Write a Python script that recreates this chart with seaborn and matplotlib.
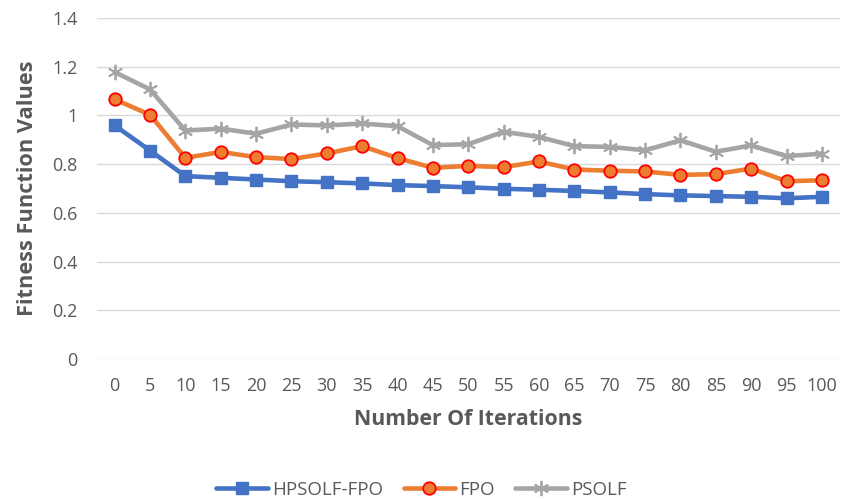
import matplotlib
matplotlib.use("Agg")
import matplotlib.pyplot as plt
import seaborn as sns
import pandas as pd
from matplotlib.lines import Line2D

iterations = [0, 5, 10, 15, 20, 25, 30, 35, 40, 45, 50, 55, 60, 65, 70, 75, 80, 85, 90, 95, 100]
hpsolf_fpo = [0.959, 0.856, 0.751, 0.744, 0.737, 0.730, 0.726, 0.721, 0.714, 0.710, 0.705,
              0.699, 0.695, 0.690, 0.684, 0.677, 0.672, 0.669, 0.666, 0.660, 0.666]
fpo = [1.066, 1.003, 0.826, 0.850, 0.829, 0.821, 0.844, 0.874, 0.825, 0.785, 0.793,
       0.788, 0.811, 0.778, 0.773, 0.770, 0.756, 0.759, 0.782, 0.730, 0.734]
psolf = [1.178, 1.107, 0.938, 0.946, 0.925, 0.963, 0.959, 0.967, 0.956, 0.878, 0.882,
         0.933, 0.912, 0.874, 0.871, 0.857, 0.898, 0.851, 0.877, 0.833, 0.843]
series_names = ["HPSOLF-FPO", "FPO", "PSOLF"]
yticks = [0, 0.2, 0.4, 0.6, 0.8, 1, 1.2, 1.4]
ytick_labels = ["0", "0.2", "0.4", "0.6", "0.8", "1", "1.2", "1.4"]

sns.set_theme(style="white")
plt.rcParams["font.family"] = ["Open Sans", "DejaVu Sans"]

rows = []
for name, vals in zip(series_names, [hpsolf_fpo, fpo, psolf]):
    for i, (it, v) in enumerate(zip(iterations, vals)):
        rows.append({"pos": i, "iter": it, "value": v, "series": name})
df = pd.DataFrame(rows)

colors = {"HPSOLF-FPO": "#4472C4", "FPO": "#ED7D31", "PSOLF": "#A5A5A5"}
markers = {"HPSOLF-FPO": "s", "FPO": "o", "PSOLF": (6, 2, 0)}
msize = {"HPSOLF-FPO": 9, "FPO": 9, "PSOLF": 11}
medge = {"HPSOLF-FPO": "#4472C4", "FPO": "#FF0000", "PSOLF": "#A5A5A5"}
mew = {"HPSOLF-FPO": 1, "FPO": 1.3, "PSOLF": 1.3}
lw = 3.3

fig = plt.figure(figsize=(8.43, 5.01), dpi=100)
ax = fig.add_axes([0.115, 0.2834, 0.881, 0.6806])

order = ["PSOLF", "FPO", "HPSOLF-FPO"]
for name in order:
    sub = df[df["series"] == name]
    sns.lineplot(data=sub, x="pos", y="value", ax=ax, color=colors[name], linewidth=lw,
                 marker=markers[name], markersize=msize[name], markeredgecolor=medge[name],
                 markerfacecolor=colors[name], markeredgewidth=mew[name], legend=False,
                 zorder=3)

ax.set_xlim(-0.5, len(iterations) - 0.5)
ax.set_ylim(0, 1.4)
ax.set_yticks(yticks)
ax.set_yticklabels(ytick_labels)
ax.set_xticks(range(len(iterations)))
ax.set_xticklabels([str(i) for i in iterations])
ax.grid(axis="y", color="#D9D9D9", linewidth=1.0)
ax.set_axisbelow(True)
for s in ax.spines.values():
    s.set_visible(False)
ax.tick_params(axis="both", length=0, labelsize=13, labelcolor="#595959")
ax.tick_params(axis="x", pad=13)
ax.tick_params(axis="y", pad=14)

ax.set_xlabel("Number Of Iterations", fontsize=15.3, fontweight="bold", color="#595959", labelpad=10)
ax.set_ylabel("Fitness Function Values", fontsize=15.7, fontweight="bold", color="#595959", labelpad=10)

handles = []
for name in series_names:
    handles.append(Line2D([0], [0], color=colors[name], linewidth=lw, marker=markers[name],
                          markersize=msize[name], markeredgecolor=medge[name],
                          markerfacecolor=colors[name], markeredgewidth=mew[name]))
fig.legend(handles, series_names, loc="center", bbox_to_anchor=(0.5, 1 - 490 / 501), ncol=3,
           frameon=False, fontsize=13.5, handlelength=2.75, columnspacing=1.1, handletextpad=0.22,
           labelcolor="#595959")

fig.savefig("out.png", dpi=100)
